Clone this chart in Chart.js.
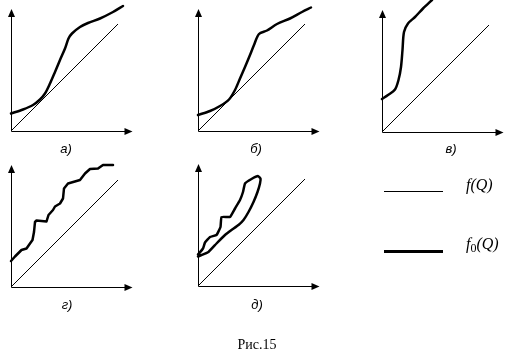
<!DOCTYPE html>
<html>
<head>
<meta charset="utf-8">
<script src="https://cdn.jsdelivr.net/npm/chart.js@4"></script>
<style>
  html, body { margin: 0; padding: 0; background: #fff; }
  #page { position: relative; width: 517px; height: 351px; overflow: hidden; }
  #page canvas { position: absolute; left: 0; top: 0; }
  .lbl { position: absolute; font: italic 13px "Liberation Sans", Arial, sans-serif; color: #000; transform: translate(-50%, -50%); white-space: nowrap; }
  .leg { position: absolute; font: italic 16px "Liberation Serif", "Times New Roman", serif; color: #000; transform: translateY(-50%); white-space: nowrap; }
  .legline { position: absolute; background: #000; }
  .cap { position: absolute; font: 14px "Liberation Serif", "Times New Roman", serif; color: #000; transform: translate(-50%, -50%); }
</style>
</head>
<body>
<div id="page">
  <canvas id="cA" width="517" height="351"></canvas>
  <canvas id="cB" width="517" height="351"></canvas>
  <canvas id="cV" width="517" height="351"></canvas>
  <canvas id="cG" width="517" height="351"></canvas>
  <canvas id="cD" width="517" height="351"></canvas>

  <div class="lbl" style="left:66px;top:148px">а)</div>
  <div class="lbl" style="left:256px;top:148px">б)</div>
  <div class="lbl" style="left:451px;top:148px">в)</div>
  <div class="lbl" style="left:67px;top:304px">г)</div>
  <div class="lbl" style="left:257px;top:304px">д)</div>

  <div class="legline" style="left:384px;top:191px;width:59px;height:1px"></div>
  <div class="legline" style="left:384px;top:250px;width:59px;height:3px"></div>
  <div class="leg" style="left:466px;top:185px">f(Q)</div>
  <div class="leg" style="left:466px;top:245px">f<span style="font-style:normal;font-size:12px;vertical-align:-3px">0</span>(Q)</div>

  <div class="cap" style="left:257px;top:345px">Рис.15</div>
</div>
<script>
// thin reference line f(Q)
const diagX = [0, 10.7];
const diagY = [0, 10.7];

// thick curves f0(Q), one per panel
const curveA_x = [0, 1.2, 2.2, 2.9, 3.4, 3.9, 4.4, 4.9, 5.4, 5.75, 6.1, 6.9, 7.7, 8.9, 10.2, 11.2];
const curveA_y = [1.75, 2.15, 2.6, 3.15, 3.75, 4.75, 5.9, 7.1, 8.25, 9.25, 9.75, 10.4, 10.8, 11.25, 11.9, 12.5];

const curveB_x = [0, 1.2, 2.2, 3.1, 3.7, 4.2, 4.7, 5.2, 5.6, 6.1, 6.9, 7.9, 9.2, 10.4, 11.3];
const curveB_y = [1.6, 2.0, 2.5, 3.15, 4.1, 5.25, 6.4, 7.6, 8.6, 9.7, 10.05, 10.7, 11.25, 11.9, 12.35];

const curveV_x = [0, 0.6, 1.3, 1.65, 1.9, 2.05, 2.2, 2.6, 3.3, 4.1, 5.0];
const curveV_y = [3.3, 3.7, 4.25, 5.2, 6.5, 8.2, 10.0, 10.85, 11.5, 12.35, 13.2];

const curveG_x = [0, 0.4, 1.05, 1.55, 1.9, 2.15, 2.3, 2.4, 2.55, 3.55, 3.75, 4.2, 4.4, 4.9, 5.2, 5.3, 5.7, 6.9, 7.4, 7.9, 8.7, 9.2, 10.2];
const curveG_y = [2.6, 3.05, 3.7, 3.85, 4.35, 4.7, 5.5, 6.5, 6.65, 6.55, 7.2, 7.7, 8.05, 8.35, 8.85, 9.85, 10.35, 10.7, 11.35, 11.8, 11.85, 12.2, 12.2];

// closed band in panel д: upper edge then back along the lower edge
const curveD_x = [0, 0.5, 0.7, 1.2, 1.85, 2.25, 2.35, 3.2, 3.7, 4.2, 4.5, 4.7, 5.35, 6.0, 6.25,
                  6.2, 5.95, 5.55, 5.05, 4.55, 4.05, 3.35, 2.7, 1.85, 1.05, 0.35, 0];
const curveD_y = [3.15, 3.75, 4.35, 4.9, 5.1, 5.9, 6.9, 6.9, 7.75, 8.6, 9.4, 10.25, 10.7, 11.0, 10.75,
                  10.25, 9.4, 8.4, 7.4, 6.6, 6.1, 5.6, 5.1, 4.25, 3.4, 3.1, 2.95];

// axis arrow length in data units
const axisLenX = 12.15;
const axisLenY = 12.2;

// where each panel's origin sits on the page
const panels = [
  {id: 'cA', ox: 11,  oy: 131, xs: curveA_x, ys: curveA_y, tension: 0.3},
  {id: 'cB', ox: 198, oy: 131, xs: curveB_x, ys: curveB_y, tension: 0.3},
  {id: 'cV', ox: 382, oy: 132, xs: curveV_x, ys: curveV_y, tension: 0.3},
  {id: 'cG', ox: 11,  oy: 287, xs: curveG_x, ys: curveG_y, tension: 0},
  {id: 'cD', ox: 198, oy: 286, xs: curveD_x, ys: curveD_y, tension: 0.1}
];

const UNIT = 10;   // px per data unit
const RANGE = 12.5;

function toPoints(xs, ys){
  return xs.map((x, i) => ({x: x, y: ys[i]}));
}

const axesArrows = {
  id: 'axesArrows',
  beforeDatasetsDraw(chart){
    const ctx = chart.ctx;
    const sx = chart.scales.x, sy = chart.scales.y;
    const x0 = Math.round(sx.getPixelForValue(0)) + 0.5;
    const y0 = Math.round(sy.getPixelForValue(0)) + 0.5;
    const xt = sx.getPixelForValue(axisLenX);
    const yt = sy.getPixelForValue(axisLenY);
    ctx.save();
    ctx.strokeStyle = '#000';
    ctx.fillStyle = '#000';
    ctx.lineWidth = 1;
    ctx.beginPath();
    ctx.moveTo(x0, y0); ctx.lineTo(x0, yt + 4);
    ctx.moveTo(x0, y0); ctx.lineTo(xt - 4, y0);
    ctx.stroke();
    // arrow heads
    ctx.beginPath();
    ctx.moveTo(x0, yt); ctx.lineTo(x0 - 3.5, yt + 8); ctx.lineTo(x0 + 3.5, yt + 8); ctx.closePath();
    ctx.fill();
    ctx.beginPath();
    ctx.moveTo(xt, y0); ctx.lineTo(xt - 8, y0 - 3.5); ctx.lineTo(xt - 8, y0 + 3.5); ctx.closePath();
    ctx.fill();
    ctx.restore();
  }
};

panels.forEach((p)=>{
  const ctx = document.getElementById(p.id).getContext('2d');
  new Chart(ctx, {
    type: 'scatter',
    data: {
      datasets: [
        {
          data: toPoints(diagX, diagY),
          showLine: true, borderColor: '#000', borderWidth: 1,
          pointRadius: 0, tension: 0, clip: false
        },
        {
          data: toPoints(p.xs, p.ys),
          showLine: true, borderColor: '#000', borderWidth: 2.5,
          pointRadius: 0, tension: p.tension, clip: false,
          borderJoinStyle: 'round', borderCapStyle: 'round'
        }
      ]
    },
    options: {
      responsive: false,
      animation: false,
      devicePixelRatio: 1,
      layout: {
        padding: {
          left: p.ox,
          top: p.oy - RANGE * UNIT,
          right: 517 - p.ox - RANGE * UNIT,
          bottom: 351 - p.oy
        }
      },
      scales: {
        x: {type: 'linear', min: 0, max: RANGE, display: false},
        y: {type: 'linear', min: 0, max: RANGE, display: false}
      },
      plugins: {legend: {display: false}, tooltip: {enabled: false}}
    },
    plugins: [axesArrows]
  });
});
</script>
</body>
</html>
